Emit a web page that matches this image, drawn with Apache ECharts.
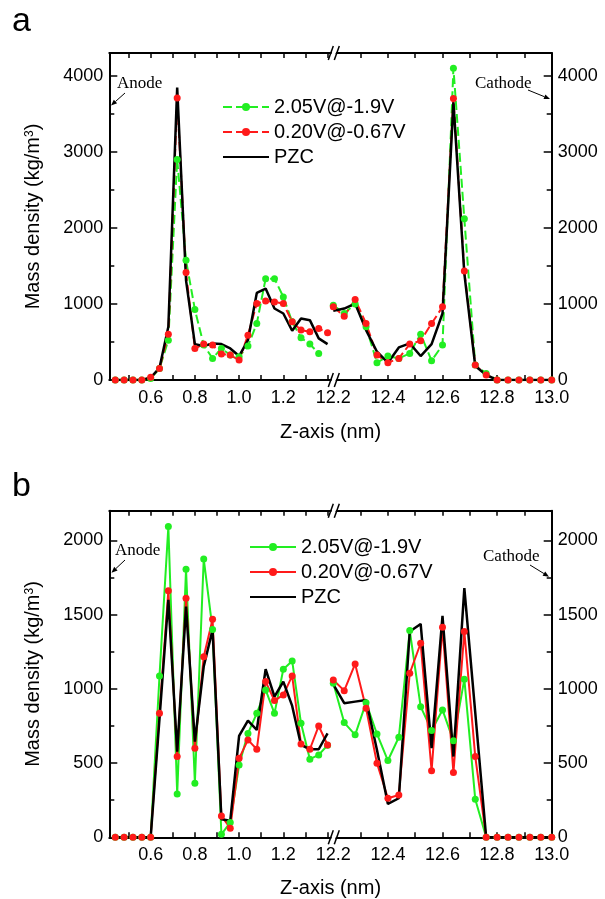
<!DOCTYPE html>
<html><head><meta charset="utf-8">
<script src="https://cdn.jsdelivr.net/npm/echarts@6/dist/echarts.min.js"></script>
<style>html,body{margin:0;padding:0;background:#fff}#c{width:605px;height:899px}</style>
</head><body><div id="c"></div>
<script>
// ---------- data ----------
const seriesNames = ['2.05V@-1.9V', '0.20V@-0.67V', 'PZC'];
const zLeft = [0.44,0.48,0.52,0.56,0.60,0.64,0.68,0.72,0.76,0.80,0.84,0.88,0.92,0.96,1.00,1.04,1.08,1.12,1.16,1.20,1.24,1.28,1.32,1.36,1.40];
const zRight = [12.20,12.24,12.28,12.32,12.36,12.40,12.44,12.48,12.52,12.56,12.60,12.64,12.68,12.72,12.76,12.80,12.84,12.88,12.92,12.96,13.00];

// panel a
const aGreenLeft  = [0,0,0,0,20,150,524,2900,1574,927,459,284,415,328,306,446,743,1333,1333,1093,765,555,472,350,null];
const aRedLeft    = [0,0,0,0,35,150,603,3707,1412,415,472,459,341,328,262,590,1005,1040,1027,1005,765,656,634,678,620];
const aBlackLeft  = [0,0,0,0,30,160,700,3847,1311,472,446,481,472,415,315,524,1145,1202,940,874,647,809,787,547,472];
const aGreenRight = [984,874,1000,700,227,315,284,350,603,254,459,4100,2120,197,87,0,0,0,0,0,0];
const aRedRight   = [962,839,1058,743,328,227,284,472,516,743,962,3703,1434,197,65,0,0,0,0,0,0];
const aBlackRight = [909,940,1005,656,372,227,428,481,315,472,874,3650,1400,184,66,0,0,0,0,0,0];

// panel b
const bGreenLeft  = [0,0,0,0,0,1087,2093,292,1806,364,1875,1400,20,100,487,700,835,993,835,1132,1188,768,526,555,620];
const bRedLeft    = [0,0,0,0,0,836,1660,544,1610,600,1217,1469,144,61,532,656,593,1049,921,959,1087,629,593,750,622];
const bBlackLeft  = [0,0,0,0,0,800,1600,577,1554,645,1150,1397,121,112,683,786,723,1132,948,1049,885,622,593,593,700];
const bGreenRight = [1038,773,690,907,696,517,674,1393,880,720,858,650,1065,256,0,0,0,0,0,0,0];
const bRedRight   = [1060,988,1168,869,499,263,285,1105,1307,449,1415,436,1386,544,0,0,0,0,0,0,0];
const bBlackRight = [1030,903,914,925,588,225,263,1386,1437,600,1491,544,1678,840,0,0,0,0,0,0,0];

// ticks
const xLeftLabels  = [0.6, 0.8, 1.0, 1.2];
const xLeftTicks   = [0.5,0.6,0.7,0.8,0.9,1.0,1.1,1.2,1.3,1.4];
const xRightLabels = [12.2, 12.4, 12.6, 12.8, 13.0];
const xRightTicks  = [12.3,12.4,12.5,12.6,12.7,12.8,12.9];
const aYMajor = [0,1000,2000,3000,4000];
const aYMinor = [500,1500,2500,3500];
const bYMajor = [0,500,1000,1500,2000];
const bYMinor = [250,750,1250,1750];

// ---------- layout ----------
const FONT = 'Arial, "Liberation Sans", Helvetica, sans-serif';
const SERIF = '"Times New Roman", "Liberation Serif", "DejaVu Serif", serif';
const X0 = 109.3, XB = 333.3, X1 = 551.7;
const XL_MIN = 0.413, XL_MAX = 1.426, XR_MIN = 12.2, XR_MAX = 13.0;
const colors = ['#22ee22', '#ff1a1a', '#000000'];

const panels = [
  { top: 53, bottom: 380, ymax: 4300, major: aYMajor, minor: aYMinor,
    left: [aGreenLeft, aRedLeft, aBlackLeft], right: [aGreenRight, aRedRight, aBlackRight],
    dashed: true, legendTop: 92, legendLeft: 217 },
  { top: 510.7, bottom: 837.3, ymax: 2200, major: bYMajor, minor: bYMinor,
    left: [bGreenLeft, bRedLeft, bBlackLeft], right: [bGreenRight, bRedRight, bBlackRight],
    dashed: false, legendTop: 532, legendLeft: 244 }
];

const grid = [], xAxis = [], yAxis = [], series = [], legend = [];
const axisLineStyle = { lineStyle: { color: '#000', width: 2 } };
const fmt1 = v => Number(v).toFixed(1);
const fmt0 = v => String(Math.round(v));

panels.forEach((p, pi) => {
  const h = p.bottom - p.top;
  grid.push({ left: X0, top: p.top, width: XB - X0, height: h });
  grid.push({ left: XB, top: p.top, width: X1 - XB, height: h });
  const gL = 2 * pi, gR = 2 * pi + 1;
  const base = 4 * pi;
  const xCommon = (gi, min, max, pos, ticks, labels) => ({
    type: 'value', gridIndex: gi, min, max, position: pos,
    axisLine: { show: true, onZero: false, ...axisLineStyle },
    axisTick: { show: true, inside: true, length: 5, customValues: ticks, lineStyle: { color: '#000', width: 1.5 } },
    axisLabel: labels ? { show: true, customValues: labels, formatter: fmt1, fontSize: 18, fontFamily: FONT, color: '#000', margin: 9 } : { show: false },
    splitLine: { show: false }
  });
  xAxis.push(xCommon(gL, XL_MIN, XL_MAX, 'bottom', xLeftTicks, xLeftLabels));
  xAxis.push(xCommon(gL, XL_MIN, XL_MAX, 'top', xLeftTicks, null));
  xAxis.push(xCommon(gR, XR_MIN, XR_MAX, 'bottom', xRightTicks, xRightLabels));
  xAxis.push(xCommon(gR, XR_MIN, XR_MAX, 'top', xRightTicks, null));

  const yMain = (gi, pos, withName) => ({
    type: 'value', gridIndex: gi, min: 0, max: p.ymax, position: pos,
    axisLine: { show: true, onZero: false, ...axisLineStyle },
    axisTick: { show: true, inside: true, length: 8, customValues: p.major, lineStyle: { color: '#000', width: 1.5 } },
    axisLabel: { show: true, customValues: p.major, formatter: fmt0, fontSize: 18, fontFamily: FONT, color: '#000', margin: 6 },
    splitLine: { show: false },
    name: withName ? 'Mass density (kg/m{sup|3})' : '',
    nameLocation: 'middle', nameGap: 66, nameRotate: 90,
    nameTextStyle: { fontSize: 20, fontFamily: FONT, color: '#000',
      rich: { sup: { fontSize: 12, fontFamily: FONT, color: '#000', verticalAlign: 'top', padding: [0, 0, 8, 0] } } }
  });
  const yMinor = (gi, pos) => ({
    type: 'value', gridIndex: gi, min: 0, max: p.ymax, position: pos,
    axisLine: { show: false }, axisLabel: { show: false }, splitLine: { show: false },
    axisTick: { show: true, inside: true, length: 5, customValues: p.minor, lineStyle: { color: '#000', width: 1.5 } }
  });
  yAxis.push(yMain(gL, 'left', true));
  yAxis.push(yMinor(gL, 'left'));
  yAxis.push(yMain(gR, 'right', false));
  yAxis.push(yMinor(gR, 'right'));

  for (let s = 0; s < 3; s++) {
    const isBlack = s === 2;
    const lineType = (p.dashed && !isBlack) ? [9, 4] : 'solid';
    const mk = (zs, vals, xi, yi) => ({
      type: 'line', name: seriesNames[s], xAxisIndex: xi, yAxisIndex: yi,
      data: zs.map((z, i) => [z, vals[i]]),
      symbol: isBlack ? 'none' : 'circle', symbolSize: 7, showSymbol: !isBlack, clip: true,
      connectNulls: false, animation: false,
      itemStyle: { color: colors[s] },
      lineStyle: { color: colors[s], width: isBlack ? 2.5 : 2, type: lineType },
      emphasis: { disabled: true }
    });
    series.push(mk(zLeft, p.left[s], base + 0, base + 0));
    series.push(mk(zRight, p.right[s], base + 2, base + 2));
  }

  legend.push({
    data: [
      { name: seriesNames[0] },
      { name: seriesNames[1] },
      { name: seriesNames[2], itemStyle: { opacity: 0 } }
    ],
    orient: 'vertical', left: p.legendLeft, top: p.legendTop,
    itemWidth: 46, itemHeight: 10, itemGap: 5, selectedMode: false,
    lineStyle: p.dashed ? {} : { type: 'solid' },
    textStyle: { fontSize: 20, fontFamily: FONT, color: '#000', lineHeight: 20 }
  });
});

// ---------- decorations ----------
const graphic = [];
function text(x, y, s, size, family, align, vAlign) {
  graphic.push({ type: 'text', x, y, silent: true,
    style: { text: s, fontSize: size, fontFamily: family, fill: '#000', align: align || 'left', verticalAlign: vAlign || 'middle' } });
}
function arrow(x1, y1, x2, y2) {
  const dx = x2 - x1, dy = y2 - y1, L = Math.hypot(dx, dy);
  const ux = dx / L, uy = dy / L, nx = -uy, ny = ux;
  const hl = 6, hw = 2.5;
  const bx = x2 - ux * hl, by = y2 - uy * hl;
  graphic.push({ type: 'line', silent: true, shape: { x1, y1, x2: bx, y2: by }, style: { stroke: '#000', lineWidth: 1 } });
  graphic.push({ type: 'polygon', silent: true,
    shape: { points: [[x2, y2], [bx + nx * hw, by + ny * hw], [bx - nx * hw, by - ny * hw]] }, style: { fill: '#000' } });
}
function breakMark(x, y) {
  graphic.push({ type: 'polygon', silent: true, z: 100,
    shape: { points: [[x - 5, y + 7], [x, y - 7], [x + 4, y - 7], [x - 1, y + 7]] }, style: { fill: '#fff' } });
  graphic.push({ type: 'line', silent: true, z: 101, shape: { x1: x - 6, y1: y + 7, x2: x - 1, y2: y - 7 }, style: { stroke: '#000', lineWidth: 1.5 } });
  graphic.push({ type: 'line', silent: true, z: 101, shape: { x1: x, y1: y + 7, x2: x + 5, y2: y - 7 }, style: { stroke: '#000', lineWidth: 1.5 } });
}

text(12, 22, 'a', 34, FONT);
text(12, 487, 'b', 34, FONT);
text((X0 + X1) / 2, 432, 'Z-axis (nm)', 20, FONT, 'center');
text((X0 + X1) / 2, 888, 'Z-axis (nm)', 20, FONT, 'center');

text(117, 84, 'Anode', 17, SERIF);
arrow(125, 93, 111, 105.5);
text(475, 84, 'Cathode', 17, SERIF);
arrow(528, 90, 550, 99);
text(115, 551, 'Anode', 17, SERIF);
arrow(125, 560, 111.5, 572.7);
text(483, 557, 'Cathode', 17, SERIF);
arrow(530, 565, 549, 576.7);

panels.forEach(p => { breakMark(XB + 1, p.top); breakMark(XB + 1, p.bottom); });

const chart = echarts.init(document.getElementById('c'), null, { renderer: 'canvas' });
chart.setOption({
  animation: false, backgroundColor: '#fff',
  grid, xAxis, yAxis, series, legend, graphic
});
</script>
</body></html>
